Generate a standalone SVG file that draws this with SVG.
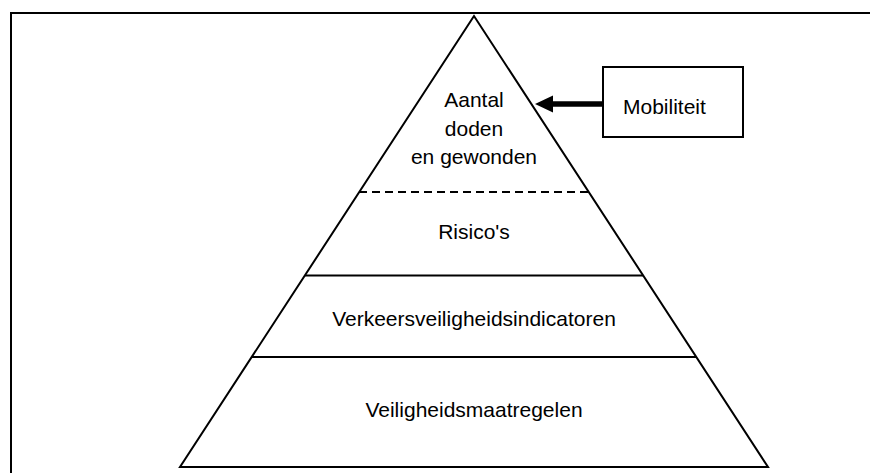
<svg xmlns="http://www.w3.org/2000/svg" width="870" height="473" viewBox="0 0 870 473">
<style>
.ln{stroke:#000;stroke-width:2;fill:none}
.t{font-family:"Liberation Sans",Arial,sans-serif;font-size:21px;fill:#000}
.c{text-anchor:middle}
</style>
<rect width="870" height="473" fill="#fff"/>
<g id="border">
<polyline class="ln" points="11,473 11,13 870,13" stroke-width="2.5"/>
</g>
<g id="pyramid">
<polygon class="ln" points="474,16 180,467 768,467"/>
<line class="ln" x1="359" y1="192" x2="589" y2="192" stroke-dasharray="8,5"/>
<line class="ln" x1="305" y1="275.5" x2="643" y2="275.5"/>
<line class="ln" x1="252" y1="357" x2="696" y2="357"/>
</g>
<g id="top">
<text class="t c" x="474" y="107">Aantal</text>
<text class="t c" x="474" y="136">doden</text>
<text class="t c" x="474" y="164">en gewonden</text>
</g>
<g id="risicos"><text class="t c" x="474" y="239">Risico's</text></g>
<g id="indicatoren"><text class="t c" x="474" y="326">Verkeersveiligheidsindicatoren</text></g>
<g id="maatregelen"><text class="t c" x="474" y="417">Veiligheidsmaatregelen</text></g>
<g id="mobiliteit">
<rect class="ln" x="603" y="67" width="140" height="70"/>
<text class="t" x="623" y="114">Mobiliteit</text>
</g>
<g id="connectors">
<line x1="603" y1="104" x2="550" y2="104" stroke="#000" stroke-width="5.5"/>
<polygon points="535,104 553,95.5 553,112.5" fill="#000"/>
</g>
</svg>
